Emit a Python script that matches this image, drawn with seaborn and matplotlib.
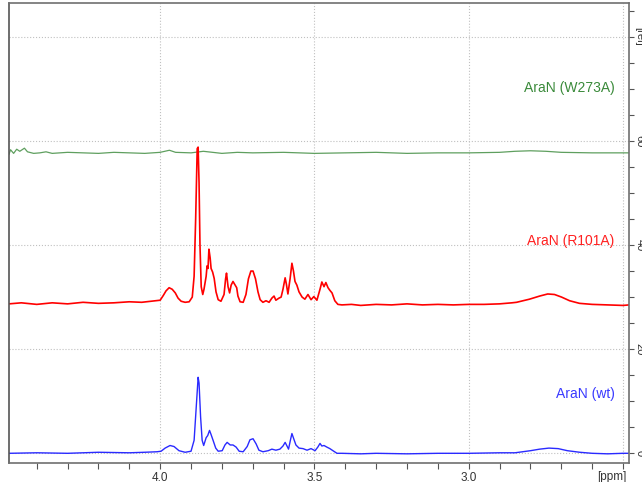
import matplotlib
matplotlib.use("Agg")
import numpy as np
import pandas as pd
import matplotlib.pyplot as plt
import seaborn as sns
from matplotlib.ticker import MultipleLocator, FuncFormatter

# ==========================================
# SPECTRUM DATA (ppm, relative intensity)
# ==========================================

wt_ppm = [4.49, 4.40, 4.30, 4.20, 4.10, 4.05, 4.01, 3.997, 3.984, 3.968, 3.955,
          3.939, 3.919, 3.900, 3.890, 3.883, 3.877, 3.874, 3.869, 3.864, 3.859,
          3.851, 3.846, 3.840, 3.835, 3.828, 3.820, 3.812, 3.799, 3.790, 3.783,
          3.773, 3.764, 3.754, 3.744, 3.731, 3.718, 3.709, 3.699, 3.689, 3.680,
          3.667, 3.650, 3.638, 3.625, 3.612, 3.602, 3.595, 3.589, 3.584, 3.578,
          3.573, 3.566, 3.560, 3.550, 3.537, 3.524, 3.511, 3.498, 3.489, 3.482,
          3.476, 3.469, 3.460, 3.450, 3.440, 3.427, 3.411, 3.35, 3.30, 3.20,
          3.10, 3.00, 2.90, 2.85, 2.80, 2.77, 2.74, 2.71, 2.68, 2.64, 2.60,
          2.55, 2.50, 2.48]
wt_int = [0.0, 0.1, 0.0, 0.2, 0.1, 0.2, 0.3, 0.4, 1.0, 1.5, 1.3,
          0.5, 0.2, 0.4, 2.5, 9.0, 14.6, 13.5, 7.0, 2.5, 1.5,
          3.0, 3.4, 4.4, 3.6, 2.4, 1.0, 0.4, 0.5, 1.6, 2.1,
          1.6, 1.6, 1.2, 0.4, 0.3, 1.3, 2.6, 2.8, 1.8, 0.6,
          0.3, 0.5, 0.8, 0.6, 0.8, 1.4, 2.1, 1.4, 0.8, 2.5,
          3.8, 2.6, 1.6, 1.0, 0.9, 0.6, 0.9, 0.5, 1.2, 1.9,
          1.4, 1.5, 1.2, 0.9, 0.5, 0.0, 0.0, -0.1, 0.0, -0.1,
          0.0, 0.0, 0.1, 0.1, 0.5, 0.8, 1.0, 0.9, 0.5, 0.2, 0.0,
          -0.1, 0.0, 0.0]

r101a_ppm = [4.49, 4.45, 4.40, 4.35, 4.30, 4.25, 4.20, 4.15, 4.10, 4.06, 4.03,
             4.00, 3.990, 3.981, 3.971, 3.961, 3.951, 3.942, 3.932, 3.919, 3.906,
             3.896, 3.890, 3.885, 3.880, 3.877, 3.874, 3.871, 3.867, 3.862, 3.858,
             3.851, 3.848, 3.845, 3.842, 3.838, 3.835, 3.830, 3.825, 3.819, 3.812,
             3.803, 3.793, 3.788, 3.785, 3.780, 3.775, 3.770, 3.764, 3.757, 3.752,
             3.748, 3.741, 3.731, 3.722, 3.714, 3.706, 3.699, 3.691, 3.683, 3.676,
             3.667, 3.657, 3.647, 3.638, 3.631, 3.625, 3.615, 3.608, 3.602, 3.595,
             3.591, 3.586, 3.579, 3.573, 3.568, 3.563, 3.557, 3.550, 3.540, 3.531,
             3.521, 3.511, 3.502, 3.492, 3.482, 3.476, 3.469, 3.463, 3.456, 3.450,
             3.443, 3.434, 3.424, 3.411, 3.38, 3.35, 3.30, 3.25, 3.20, 3.15,
             3.10, 3.05, 3.00, 2.95, 2.90, 2.86, 2.845, 2.803, 2.770, 2.744,
             2.722, 2.699, 2.673, 2.641, 2.60, 2.55, 2.50, 2.48]
r101a_int = [28.7, 28.9, 28.6, 28.9, 28.7, 29.0, 28.8, 28.9, 29.1, 29.0, 29.2,
             29.4, 30.3, 31.2, 31.8, 31.5, 30.8, 29.8, 29.2, 29.0, 29.1,
             30.0, 34.0, 45.0, 58.5, 58.8, 52.0, 40.0, 32.0, 30.5, 31.5,
             34.0, 36.0, 35.5, 39.2, 37.5, 35.5, 34.8, 33.6, 31.0, 29.5,
             29.2, 30.5, 33.5, 34.6, 32.0, 30.8, 32.3, 33.0, 32.3, 31.8,
             30.2, 29.1, 29.0, 30.5, 33.5, 35.0, 35.0, 33.5, 31.0, 29.5,
             29.0, 29.3, 29.0, 29.8, 30.2, 29.4, 29.8, 30.0, 31.5, 33.7,
             32.5, 30.6, 33.5, 36.5, 35.0, 33.0, 32.3, 31.0, 30.0, 29.6,
             30.5, 29.5, 30.1, 29.4, 31.5, 32.9, 32.0, 32.8, 31.8, 31.3,
             30.8, 29.3, 28.6, 28.5, 28.6, 28.4, 28.6, 28.5, 28.7, 28.5,
             28.6, 28.5, 28.6, 28.6, 28.7, 28.9, 29.0, 29.6, 30.2, 30.6,
             30.5, 30.0, 29.3, 28.8, 28.6, 28.5, 28.4, 28.5]

w273a_ppm = [4.49, 4.485, 4.475, 4.465, 4.455, 4.44, 4.43, 4.41, 4.39, 4.37,
             4.35, 4.30, 4.25, 4.20, 4.15, 4.10, 4.05, 4.00, 3.97, 3.95,
             3.90, 3.86, 3.80, 3.75, 3.70, 3.60, 3.50, 3.40, 3.30, 3.20,
             3.10, 3.00, 2.90, 2.85, 2.80, 2.75, 2.70, 2.60, 2.48]
w273a_int = [57.4, 58.3, 57.6, 58.4, 58.0, 58.6, 57.9, 57.6, 57.7, 57.9,
             57.6, 57.8, 57.7, 57.6, 57.8, 57.7, 57.6, 57.8, 58.2, 57.8,
             57.7, 58.0, 57.6, 57.8, 57.7, 57.8, 57.6, 57.7, 57.8, 57.6,
             57.7, 57.7, 57.8, 58.0, 58.1, 58.0, 57.8, 57.7, 57.7]

x_major = [4.0, 3.5, 3.0, 2.5]
y_major = [0, 20, 40, 60, 80]

# ==========================================
# PLOT
# ==========================================

sns.set_theme(style="white")
plt.rcParams['font.family'] = ['Liberation Sans', 'DejaVu Sans']

fig = plt.figure(figsize=(6.42, 4.82), dpi=100)
ax = fig.add_axes([0.014, 0.039, 0.966, 0.955])

green = '#5f9f5f'
red = '#ff0000'
blue = '#2a2aff'

sns.lineplot(x=w273a_ppm, y=w273a_int, color=green, linewidth=0.9, ax=ax)
sns.lineplot(x=r101a_ppm, y=r101a_int, color=red, linewidth=1.2, ax=ax)
sns.lineplot(x=wt_ppm, y=wt_int, color=blue, linewidth=1.0, ax=ax)

ax.set_xlim(4.49, 2.48)
ax.set_ylim(-1.9, 86.5)

# labels
ax.text(2.527, 70.2, 'AraN (W273A)', color='#3a8a3a', fontsize=10,
        ha='right', va='center')
ax.text(2.527, 40.8, 'AraN (R101A)', color='#ff2020', fontsize=10,
        ha='right', va='center')
ax.text(2.527, 11.3, 'AraN (wt)', color='#3a3aff', fontsize=10,
        ha='right', va='center')

# axes styling
ax.xaxis.set_major_locator(plt.FixedLocator(x_major))
ax.xaxis.set_minor_locator(MultipleLocator(0.1))
ax.xaxis.set_major_formatter(FuncFormatter(lambda v, p: '' if v < 2.6 else f'{v:.1f}'))
ax.yaxis.tick_right()
ax.yaxis.set_major_locator(plt.FixedLocator(y_major))
ax.yaxis.set_minor_locator(MultipleLocator(5))
ax.yaxis.set_major_formatter(FuncFormatter(lambda v, p: '[rel]' if v > 70 else f'{v:.0f}'))

ax.tick_params(axis='both', which='both', direction='out', length=4,
               width=0.8, color='#555555', labelsize=8.5, labelcolor='#333333')
ax.tick_params(axis='x', which='both', bottom=True, pad=2)
ax.tick_params(axis='y', which='both', right=True, left=False, pad=0.5,
               labelsize=8, length=3.5)
for lab in ax.get_yticklabels():
    lab.set_rotation(-90)
    lab.set_va('center')

ax.text(2.535, -0.03, '[ppm]', transform=ax.get_xaxis_transform(),
        fontsize=8.5, color='#333333', ha='center', va='center')

ax.grid(True, which='major', linestyle=':', color='#c0c0c0', linewidth=0.8)

for side in ['left', 'right', 'top', 'bottom']:
    ax.spines[side].set_color('#707070')
    ax.spines[side].set_linewidth(1.2)
ax.spines['left'].set_color('#555555')

ax.set_xlabel('')
ax.set_ylabel('')

fig.savefig('out.png', dpi=100)
